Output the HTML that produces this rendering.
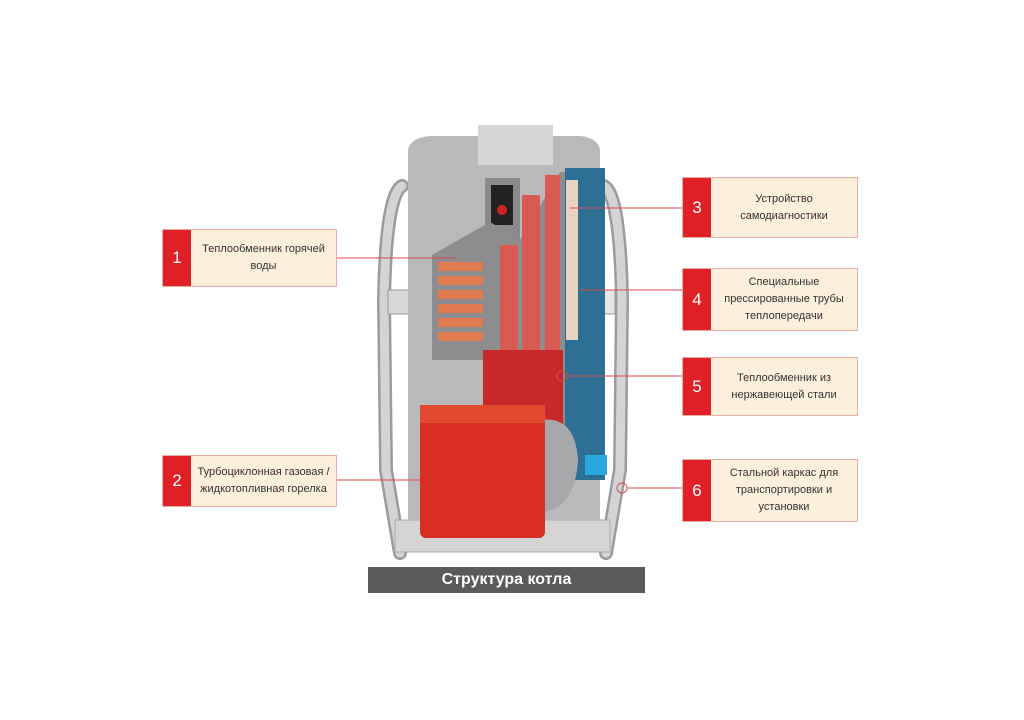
<!DOCTYPE html>
<html><head><meta charset="utf-8"><style>
body{margin:0;background:#fff;width:1024px;height:720px;overflow:hidden;position:relative;font-family:"Liberation Sans",sans-serif}
.b{position:absolute;background:#fcefdc;border:1px solid #e8b0a8;box-sizing:border-box;display:flex;align-items:center}
.b .n{width:28px;height:100%;background:#e02027;color:#fff;font-size:17px;display:flex;align-items:center;justify-content:center;flex:none}
.b .t{flex:1;text-align:center;font-size:11px;line-height:17px;color:#333}
.cap{position:absolute;left:368px;top:567px;width:277px;height:26px;background:#5a5a5c;color:#fff;font-weight:bold;font-size:16px;text-align:center;line-height:26px}
</style></head><body>
<svg width="1024" height="720" style="position:absolute;left:0;top:0">
<!-- frame tubes -->
<path d="M400 553 L386 470 L384 300 Q386 195 402 186" fill="none" stroke="#9c9c9e" stroke-width="14" stroke-linecap="round"/>
<path d="M400 553 L386 470 L384 300 Q386 195 402 186" fill="none" stroke="#d4d4d6" stroke-width="9" stroke-linecap="round"/>
<path d="M606 553 L620 470 L622 300 Q620 195 604 186" fill="none" stroke="#9c9c9e" stroke-width="14" stroke-linecap="round"/>
<path d="M606 553 L620 470 L622 300 Q620 195 604 186" fill="none" stroke="#d4d4d6" stroke-width="9" stroke-linecap="round"/>
<rect x="388" y="290" width="30" height="24" fill="#d8d8d8" stroke="#999"/>
<rect x="590" y="290" width="25" height="24" fill="#e6e6e6" stroke="#999"/>
<rect x="395" y="520" width="215" height="32" fill="#d5d5d5" stroke="#aaa"/>
<!-- body -->
<path d="M408 150 Q410 138 430 136 L580 136 Q598 138 600 150 L600 520 L408 520Z" fill="#b9b9bb"/>
<rect x="478" y="125" width="75" height="40" fill="#d6d6d8"/>
<rect x="485" y="178" width="35" height="70" fill="#8a8a8c"/>
<rect x="491" y="185" width="22" height="40" fill="#222"/>
<circle cx="502" cy="210" r="5" fill="#d02020"/>
<!-- cutout -->
<path d="M432 255 L490 222 L520 240 L560 172 L605 168 L605 480 L560 480 L560 350 L483 350 L483 360 L432 360Z" fill="#8d8d90"/>
<g fill="#e07a50">
<rect x="438" y="262" width="45" height="9"/><rect x="438" y="276" width="45" height="9"/><rect x="438" y="290" width="45" height="9"/><rect x="438" y="304" width="45" height="9"/><rect x="438" y="318" width="45" height="9"/><rect x="438" y="332" width="45" height="9"/>
</g>
<rect x="500" y="245" width="18" height="110" fill="#d85a50"/>
<rect x="522" y="195" width="18" height="160" fill="#d85a50"/>
<rect x="545" y="175" width="15" height="180" fill="#d85a50"/>
<rect x="565" y="168" width="40" height="312" fill="#2d6f95"/>
<rect x="566" y="180" width="12" height="160" fill="#e8d4c0"/>
<rect x="585" y="455" width="22" height="20" fill="#2aa7df"/>
<rect x="483" y="350" width="80" height="120" fill="#c8282a"/>
<!-- burner -->
<path d="M540 420 Q575 415 578 460 Q575 510 540 512Z" fill="#a8a8aa"/>
<rect x="420" y="405" width="125" height="133" rx="6" fill="#d92e22"/>
<rect x="420" y="405" width="125" height="18" fill="#e24a30"/>
<!-- connectors -->
<g stroke="#d94a4a" stroke-width="1" fill="none">
<line x1="337" y1="258" x2="455" y2="258"/>
<line x1="337" y1="480" x2="420" y2="480"/>
<line x1="570" y1="208" x2="682" y2="208"/>
<line x1="580" y1="290" x2="682" y2="290"/>
<line x1="567" y1="376" x2="682" y2="376"/>
<line x1="627" y1="488" x2="682" y2="488"/>
<circle cx="562" cy="376" r="5"/><circle cx="622" cy="488" r="5"/>
</g>
</svg>
<div class="b" style="left:162px;top:229px;width:175px;height:58px"><div class="n">1</div><div class="t">Теплообменник горячей<br>воды</div></div>
<div class="b" style="left:162px;top:455px;width:175px;height:52px"><div class="n">2</div><div class="t">Турбоциклонная газовая /<br>жидкотопливная горелка</div></div>
<div class="b" style="left:682px;top:177px;width:176px;height:61px"><div class="n">3</div><div class="t">Устройство<br>самодиагностики</div></div>
<div class="b" style="left:682px;top:268px;width:176px;height:63px"><div class="n">4</div><div class="t">Специальные<br>прессированные трубы<br>теплопередачи</div></div>
<div class="b" style="left:682px;top:357px;width:176px;height:59px"><div class="n">5</div><div class="t">Теплообменник из<br>нержавеющей стали</div></div>
<div class="b" style="left:682px;top:459px;width:176px;height:63px"><div class="n">6</div><div class="t">Стальной каркас для<br>транспортировки и<br>установки</div></div>
<div class="cap">Структура котла</div>
</body></html>
